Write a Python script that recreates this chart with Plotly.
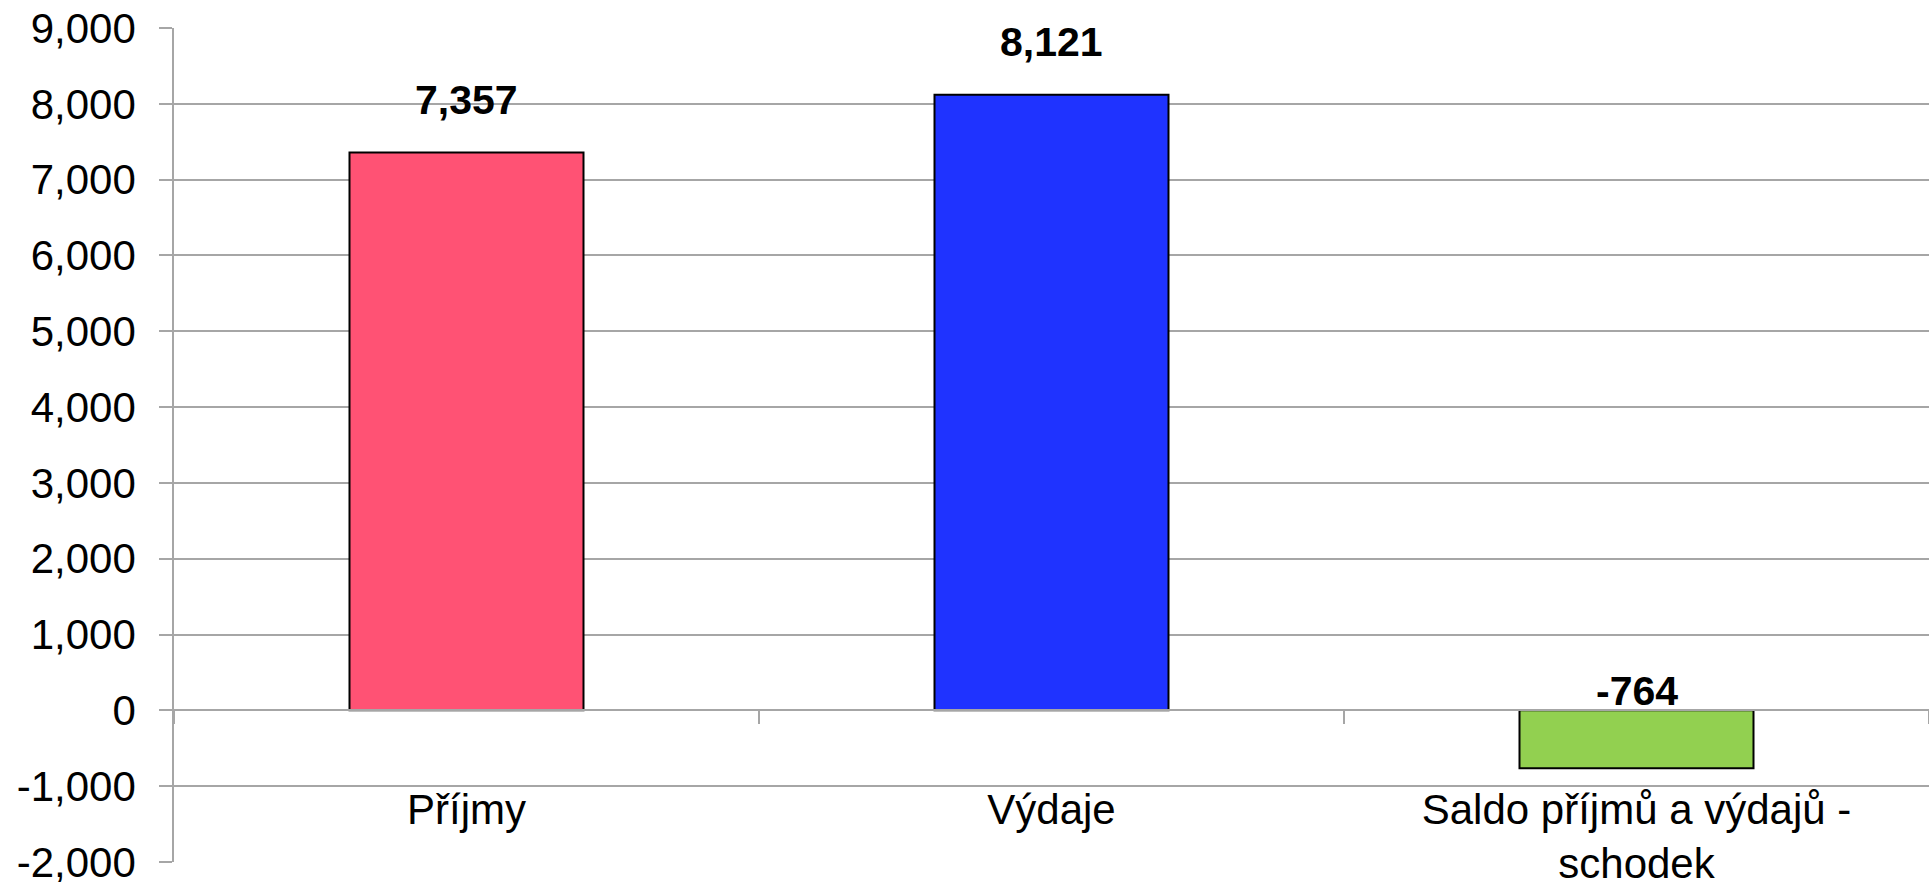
import plotly.graph_objects as go

categories = ["Příjmy", "Výdaje", "Saldo příjmů a výdajů -<br>schodek"]
values = [7357, 8121, -764]
labels = ["7,357", "8,121", "-764"]
colors = ["#FF5274", "#1F33FF", "#92D050"]
y_tick_vals = [-2000, -1000, 0, 1000, 2000, 3000, 4000, 5000, 6000, 7000, 8000, 9000]
y_tick_text = ["-2,000", "-1,000", "0", "1,000", "2,000", "3,000", "4,000",
               "5,000", "6,000", "7,000", "8,000", "9,000"]
y_min, y_max = -2000, 9000

FONT = "Liberation Sans, Arial, sans-serif"
GRID = "#A6A6A6"

fig = go.Figure()
fig.add_trace(go.Bar(
    x=categories, y=values,
    marker=dict(color=colors, line=dict(color="#000000", width=2)),
    width=0.4, hoverinfo="skip",
))

for c, v, t in zip(categories, values, labels):
    if v >= 0:
        fig.add_annotation(x=c, y=v, text="<b>%s</b>" % t, showarrow=False,
                           yanchor="middle", yshift=53,
                           font=dict(family=FONT, size=41, color="#000000"))
    else:
        fig.add_annotation(x=c, y=0, text="<b>%s</b>" % t, showarrow=False,
                           yanchor="middle", yshift=19,
                           font=dict(family=FONT, size=41, color="#000000"))

zero_pos = (0 - y_min) / (y_max - y_min)

fig.update_layout(
    width=1929, height=882,
    margin=dict(l=174, r=0, t=28, b=20, autoexpand=False),
    paper_bgcolor="white", plot_bgcolor="white",
    showlegend=False,
    font=dict(family=FONT, color="#000000"),
    xaxis=dict(
        anchor="free", position=zero_pos, automargin=False,
        showline=True, linecolor=GRID, linewidth=1.5,
        ticks="outside", tickson="boundaries", ticklen=13, tickcolor=GRID, tickwidth=1.5,
        tickfont=dict(size=42, family=FONT, color="#000000"),
        ticklabelstandoff=62, ticklabeloverflow="allow",
        showgrid=False, zeroline=False,
    ),
    yaxis=dict(
        range=[y_min, y_max], automargin=False,
        tickmode="array", tickvals=y_tick_vals, ticktext=y_tick_text,
        showgrid=True, gridcolor=GRID, gridwidth=1.5,
        zeroline=True, zerolinecolor=GRID, zerolinewidth=1.5,
        showline=True, linecolor=GRID, linewidth=1.5,
        ticks="outside", ticklen=13, tickcolor=GRID, tickwidth=1.5,
        tickfont=dict(size=42, family=FONT, color="#000000"),
        ticklabelstandoff=15, ticklabeloverflow="allow",
    ),
)

fig.write_html(
    "out.html",
    config={"displayModeBar": False},
    post_script="document.body.style.margin='0';document.body.style.overflow='hidden';",
)
